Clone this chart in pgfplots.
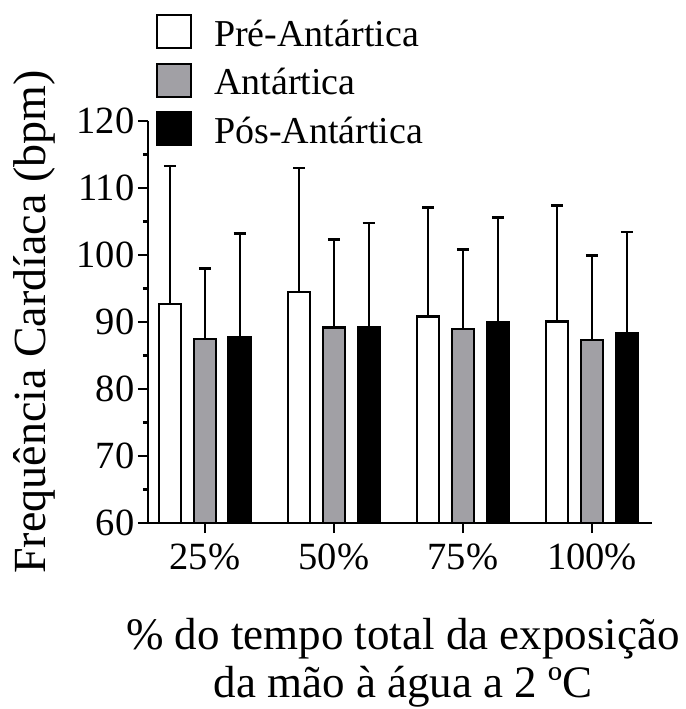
\documentclass[border=0pt]{standalone}
\usepackage{fontspec}
\setmainfont{Liberation Serif}
\usepackage{pgfplots}
\pgfplotsset{compat=1.18}
\usepackage{pgfplotstable}
\definecolor{barGray}{RGB}{161,160,165}

\pgfplotstableread{
x y e
0 92.7 20.6
1 94.5 18.5
2 90.8 16.3
3 90.1 17.3
}\pre
\pgfplotstableread{
x y e
0 87.5 10.5
1 89.2 13.1
2 89.0 11.8
3 87.3 12.6
}\ant
\pgfplotstableread{
x y e
0 87.8 15.4
1 89.2 15.6
2 90.0 15.6
3 88.3 15.1
}\pos

\begin{document}
\begin{tikzpicture}
\useasboundingbox (0,0) rectangle (686bp,709bp);
\begin{axis}[
  at={(148bp,186bp)}, anchor=south west,
  scale only axis, width=504bp, height=402bp,
  xmin=-0.44, xmax=3.465,
  ymin=60, ymax=120,
  ytick={60,70,...,120},
  minor y tick num=1,
  xtick={0,1,2,3},
  xticklabels={25\%,50\%,75\%,100\%},
  axis x line=bottom, axis y line=left,
  axis line style={-, line width=2.5bp},
  x axis line style={shorten <=-10bp},
  tick align=outside,
  major tick length=10bp, minor tick length=5bp,
  every tick/.style={black, line width=2.2bp},
  /pgf/number format/assume math mode=true,
  tick label style={font=\fontsize{38.5bp}{40bp}\selectfont},
  xticklabel style={yshift=-7bp},
  ylabel={Frequência Cardíaca (bpm)},
  ylabel style={font=\fontsize{46bp}{48bp}\selectfont, at={(axis description cs:-0.1845,0.5)}, anchor=south, inner sep=0pt},
  xlabel={\% do tempo total da exposição\\da mão à água a 2 ºC},
  xlabel style={font=\fontsize{45bp}{48bp}\selectfont, align=center, at={(axis description cs:0.5,0)}, anchor=north, inner sep=0pt, yshift=-95bp, xshift=3bp},
  ybar, bar width=0.17,
  clip=true,
  legend style={at={(axis description cs:0,1)}, anchor=north west, xshift=8bp, yshift=113.75bp,
    font=\fontsize{38bp}{40bp}\selectfont, draw=none, fill=none, inner sep=0pt, row sep=0pt,
    nodes={inner sep=0pt, text height=38.75bp, text depth=9.75bp},
    /tikz/every odd column/.append style={column sep=22bp}},
  legend cell align=left,
]
\addplot[draw=black, fill=white, line width=2.4bp, bar shift=-0.27,
  error bars/.cd, y dir=plus, y explicit, error bar style={line width=2bp, black}, error mark options={rotate=90, mark size=6bp, line width=2.4bp, black}]
  table[x=x, y=y, y error=e] {\pre};
\addlegendentry{Pré-Antártica}
\addplot[draw=black, fill=barGray, line width=2.4bp, bar shift=0,
  error bars/.cd, y dir=plus, y explicit, error bar style={line width=2bp, black}, error mark options={rotate=90, mark size=6bp, line width=2.4bp, black}]
  table[x=x, y=y, y error=e] {\ant};
\addlegendentry{Antártica}
\addplot[draw=black, fill=black, line width=2.4bp, bar shift=0.27,
  error bars/.cd, y dir=plus, y explicit, error bar style={line width=2bp, black}, error mark options={rotate=90, mark size=6bp, line width=2.4bp, black}]
  table[x=x, y=y, y error=e] {\pos};
\addlegendentry{Pós-Antártica}
\pgfplotsset{legend image code/.code={\draw[#1, line width=2bp] (0bp,-16.5bp) rectangle (34bp,16.5bp);}}
\end{axis}
\end{tikzpicture}
\end{document}
